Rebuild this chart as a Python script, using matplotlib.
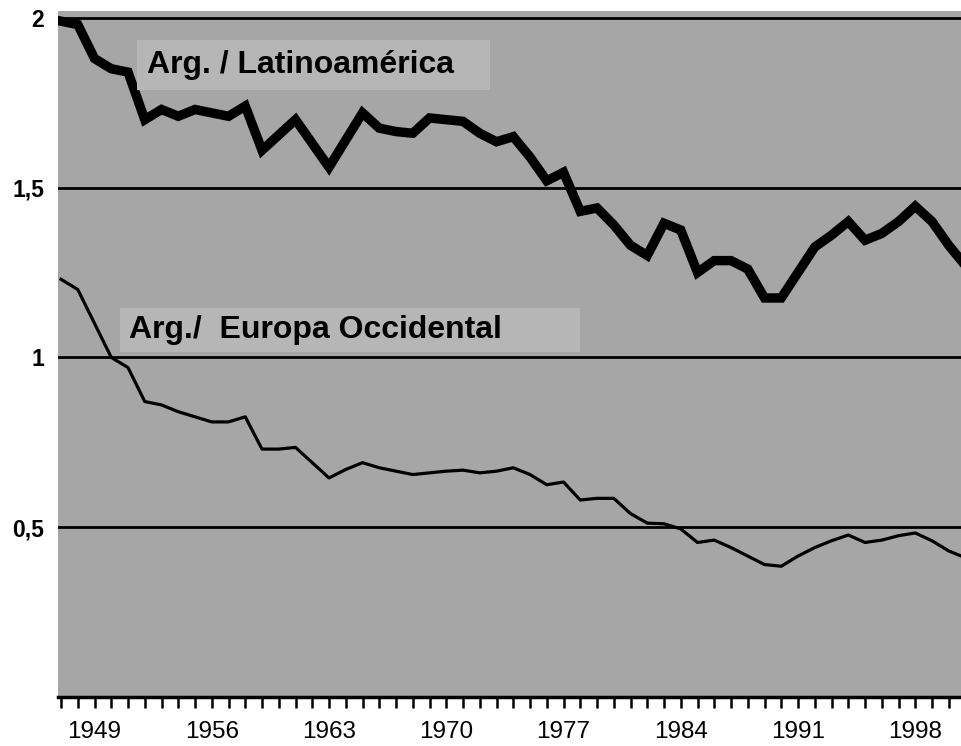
import matplotlib
matplotlib.use("Agg")
import matplotlib.pyplot as plt
from matplotlib.patches import Rectangle
from matplotlib.ticker import FixedLocator, MultipleLocator

years = list(range(1947, 2002))
arg_latam = [1.99, 1.98, 1.88, 1.85, 1.84, 1.70, 1.73, 1.71, 1.73, 1.72,
             1.71, 1.74, 1.61, 1.655, 1.70, 1.63, 1.56, 1.64, 1.72, 1.675,
             1.665, 1.66, 1.705, 1.70, 1.695, 1.66, 1.635, 1.65, 1.59, 1.52,
             1.545, 1.43, 1.44, 1.39, 1.33, 1.30, 1.395, 1.375, 1.25, 1.285,
             1.285, 1.26, 1.175, 1.175, 1.25, 1.325, 1.36, 1.40, 1.345, 1.365,
             1.40, 1.445, 1.40, 1.33, 1.27]
arg_europa = [1.23, 1.20, 1.10, 1.00, 0.97, 0.87, 0.86, 0.84, 0.825, 0.81,
              0.81, 0.825, 0.73, 0.73, 0.735, 0.69, 0.645, 0.67, 0.69, 0.675,
              0.665, 0.655, 0.66, 0.665, 0.668, 0.66, 0.665, 0.675, 0.655, 0.625,
              0.633, 0.58, 0.585, 0.585, 0.54, 0.512, 0.51, 0.495, 0.455, 0.462,
              0.44, 0.415, 0.39, 0.385, 0.415, 0.44, 0.46, 0.477, 0.455, 0.462,
              0.475, 0.483, 0.46, 0.43, 0.41]
xtick_years = [1949, 1956, 1963, 1970, 1977, 1984, 1991, 1998]
ytick_vals = [0.5, 1.0, 1.5, 2.0]
ytick_labels = ["0,5", "1", "1,5", "2"]
label_latam = "Arg. / Latinoamérica"
label_europa = "Arg./  Europa Occidental"

plt.rcParams['font.family'] = ['Liberation Sans', 'DejaVu Sans']

fig = plt.figure(figsize=(9.62, 7.46), dpi=100)
ax = fig.add_axes([58/962, 49/746, 904/962, 686/746])
ax.set_facecolor('#a6a6a6')
ax.set_xlim(1946.82, 2000.79)
ax.set_ylim(0, 2.02)

for v in ytick_vals:
    ax.axhline(v, color='black', lw=2.0, zorder=2)

ax.plot(years, arg_latam, color='black', lw=6.8, solid_joinstyle='miter', zorder=4)
ax.plot(years, arg_europa, color='black', lw=2.3, zorder=4)

# label boxes (axes-fraction coordinates)
ax.add_patch(Rectangle((0.0874, 0.8848), 0.3905, 0.0729, transform=ax.transAxes,
                       facecolor='#b6b6b6', edgecolor='none', zorder=5))
ax.text(0.0985, 0.9213, label_latam, transform=ax.transAxes, fontsize=23,
        fontweight='bold', color='black', va='center', ha='left', zorder=6)
ax.add_patch(Rectangle((0.0686, 0.503), 0.5088, 0.064, transform=ax.transAxes,
                       facecolor='#b6b6b6', edgecolor='none', zorder=5))
ax.text(0.0785, 0.535, label_europa, transform=ax.transAxes, fontsize=23,
        fontweight='bold', color='black', va='center', ha='left', zorder=6)

for s in ['top', 'right', 'left']:
    ax.spines[s].set_visible(False)
ax.spines['bottom'].set_linewidth(2.5)

ax.xaxis.set_major_locator(FixedLocator(xtick_years))
ax.xaxis.set_minor_locator(MultipleLocator(1))
ax.set_xticks(xtick_years)
ax.set_xticklabels([str(y) for y in xtick_years], fontsize=17.5)
ax.tick_params(axis='x', which='both', direction='out', length=8, width=1.8, pad=9)
ax.set_yticks(ytick_vals)
ax.set_yticklabels(ytick_labels, fontsize=16.5, fontweight='bold')
ax.tick_params(axis='y', length=0, pad=10)

fig.savefig('out.png', dpi=100, facecolor='white')
